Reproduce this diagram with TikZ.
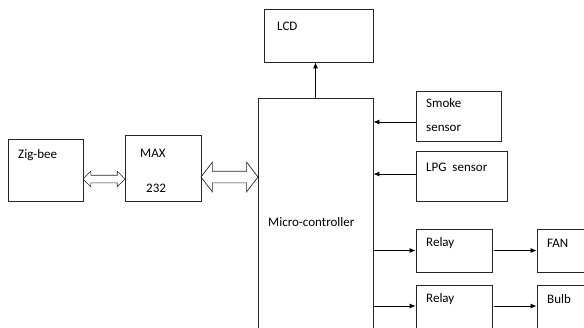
\documentclass[tikz,border=0pt]{standalone}
\usepackage{fontspec}
\setmainfont{Carlito}
\usetikzlibrary{shapes.arrows,arrows.meta}
\begin{document}
\begin{tikzpicture}
        [x=1pt,y=-1pt,
         box_style/.style={rectangle,draw=black!85,line width=0.7pt,inner sep=0pt},
         text_style/.style={anchor=west,inner sep=0pt,font=\fontsize{13}{24}\selectfont,align=left},
         edge_style/.style={draw=black,line width=0.9pt,-{Latex[length=6pt,width=5pt]}},
         bus_style/.style={double arrow,draw=black!85,line width=0.7pt,inner xsep=0pt}]
            \useasboundingbox (0,0) rectangle (584,327);
            % boxes
            \node[box_style,minimum width=109pt,minimum height=53pt] (lcd) at (318.5,35.5) {};
            \node[box_style,minimum width=115pt,minimum height=250pt] (mc) at (315.5,223) {};
            \node[box_style,minimum width=75pt,minimum height=62pt] (zig) at (45.5,170) {};
            \node[box_style,minimum width=76pt,minimum height=66pt] (max) at (163,168) {};
            \node[box_style,minimum width=85pt,minimum height=50pt] (smoke) at (458.5,116) {};
            \node[box_style,minimum width=91pt,minimum height=50pt] (lpg) at (461.5,176) {};
            \node[box_style,minimum width=76pt,minimum height=43pt] (relay1) at (454,250.5) {};
            \node[box_style,minimum width=60pt,minimum height=43pt] (fan) at (567,250.5) {};
            \node[box_style,minimum width=76pt,minimum height=50pt] (relay2) at (454,310) {};
            \node[box_style,minimum width=60pt,minimum height=50pt] (bulb) at (567,310) {};
            % labels
            \node[text_style] (lcd_text) at (277,26) {LCD};
            \node[text_style] (mc_text) at (268,222) {Micro-controller};
            \node[text_style] (zig_text) at (18,155) {Zig-bee};
            \node[text_style] (max_text) at (140,153) {MAX};
            \node[text_style] (max_num) at (146,188) {232};
            \node[text_style] (smoke_text) at (426,115) {Smoke\\sensor};
            \node[text_style] (lpg_text) at (426,167) {LPG~ sensor};
            \node[text_style] (relay1_text) at (426,243) {Relay};
            \node[text_style] (fan_text) at (547,243) {FAN};
            \node[text_style] (relay2_text) at (426,299) {Relay};
            \node[text_style] (bulb_text) at (547,299) {Bulb};
            % links
            \node[bus_style,minimum height=42pt,inner ysep=3.5pt,double arrow head extend=4pt] (zig_max) at (104,179) {};
            \node[bus_style,minimum height=57pt,inner ysep=5.5pt,double arrow head extend=9pt,double arrow tip angle=105] (max_mc) at (229.5,177) {};
            \draw[edge_style]  (mc.north) -- (mc.north |- lcd.south);
            \draw[edge_style]  ([yshift=-6pt]smoke.west) -- ([yshift=-6pt]smoke.west -| mc.east);
            \draw[edge_style]  ([yshift=2pt]lpg.west) -- ([yshift=2pt]lpg.west -| mc.east);
            \draw[edge_style]  (relay1.west -| mc.east) -- (relay1.west);
            \draw[edge_style]  ([yshift=4pt]relay2.west -| mc.east) -- ([yshift=4pt]relay2.west);
            \draw[edge_style]  ([xshift=2pt]relay1.east) -- (fan.west);
            \draw[edge_style]  ([xshift=2pt,yshift=4pt]relay2.east) -- ([yshift=4pt]bulb.west);
        \end{tikzpicture}
\end{document}
